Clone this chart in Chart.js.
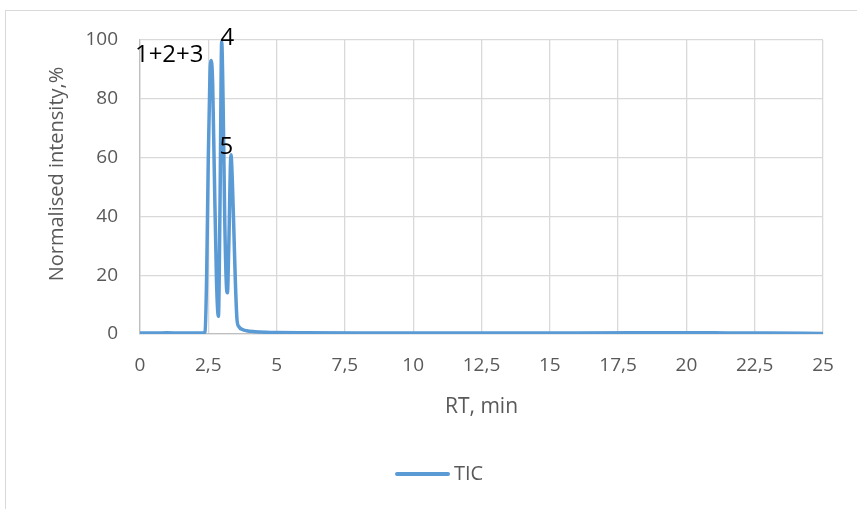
<!DOCTYPE html>
<html>
<head>
<meta charset="utf-8">
<script src="https://cdn.jsdelivr.net/npm/chart.js@4/dist/chart.umd.min.js"></script>
<style>
  body { margin: 0; background: #fff; }
  #frame { position: absolute; left: 5px; top: 10px; width: 900px; height: 600px; border: 1px solid #d9d9d9; }
  #wrap { position: absolute; left: 0; top: 0; width: 857px; height: 509px; }
</style>
</head>
<body>
<div id="frame"></div>
<div id="wrap"><canvas id="tic" width="857" height="509"></canvas></div>
<script>
// TIC chromatogram, values
var rt = [0, 0.5, 1.0, 1.5, 2.0, 2.3, 2.38, 2.44, 2.5, 2.56, 2.61, 2.66, 2.72, 2.8, 2.87, 2.93, 2.99, 3.04, 3.1, 3.16, 3.2, 3.25, 3.33, 3.38, 3.43, 3.49, 3.55, 3.62, 3.75, 3.9, 4.2, 4.6, 5, 6, 8, 10, 12, 15, 18, 20, 21, 22, 23, 25];
var intensity = [0.3, 0.3, 0.4, 0.3, 0.3, 0.3, 0.8, 20, 60, 88, 93, 85, 55, 18, 6, 45, 99.5, 80, 40, 17, 14, 30, 61, 52, 37, 18, 5, 2.5, 1.5, 1.1, 0.8, 0.6, 0.5, 0.4, 0.3, 0.3, 0.3, 0.35, 0.4, 0.4, 0.4, 0.3, 0.3, 0.2];

// peak labels
var peakNames = ["1+2+3", "4", "5"];
var peakRt = [1.07, 3.2, 3.16];
var peakY = [95, 100.5, 63.5];

var xTicks = [0, 2.5, 5, 7.5, 10, 12.5, 15, 17.5, 20, 22.5, 25];

var peakLabels = {
  id: 'peakLabels',
  afterDatasetsDraw: function(chart) {
    var ctx = chart.ctx;
    var xs = chart.scales.x, ys = chart.scales.y;
    ctx.save();
    ctx.font = '24px "Open Sans"';
    ctx.fillStyle = '#000';
    ctx.textAlign = 'center';
    ctx.textBaseline = 'middle';
    for (var i = 0; i < peakNames.length; i++) {
      ctx.fillText(peakNames[i], xs.getPixelForValue(peakRt[i]), ys.getPixelForValue(peakY[i]));
    }
    // legend
    var ds = chart.data.datasets[0];
    ctx.strokeStyle = ds.borderColor;
    ctx.lineWidth = 4;
    ctx.lineCap = 'round';
    ctx.beginPath();
    ctx.moveTo(397, 474);
    ctx.lineTo(448, 474);
    ctx.stroke();
    ctx.font = '20px "Open Sans"';
    ctx.fillStyle = '#595959';
    ctx.textAlign = 'left';
    ctx.fillText(ds.label, 454, 474);
    ctx.restore();
  }
};

var tickFont = { family: 'Open Sans', size: 19 };

new Chart(document.getElementById("tic"), {
  type: 'scatter',
  data: {
    datasets: [{
      label: "TIC",
      data: rt.map(function(v, i) { return { x: v, y: intensity[i] }; }),
      showLine: true,
      borderColor: "#5b9bd5",
      backgroundColor: "#5b9bd5",
      borderWidth: 3.5,
      pointRadius: 0,
      cubicInterpolationMode: 'monotone',
      fill: false
    }]
  },
  options: {
    responsive: false,
    animation: false,
    layout: { padding: { left: 0, right: 34, top: 40, bottom: 0 } },
    scales: {
      x: {
        type: 'linear', min: 0, max: 25,
        afterBuildTicks: function(s) { s.ticks = xTicks.map(function(v) { return { value: v }; }); },
        afterFit: function(s) { s.height = 175; },
        ticks: {
          color: '#595959', font: tickFont, padding: 20, maxRotation: 0,
          callback: function(v) { return String(v).replace('.', ','); }
        },
        grid: { color: '#d9d9d9', lineWidth: 1.3, drawTicks: false },
        border: { color: '#bfbfbf', width: 1.3 },
        title: { display: true, text: 'RT, min', color: '#595959', font: { family: 'Open Sans', size: 21 }, padding: { top: 0, bottom: 89 } }
      },
      y: {
        min: 0, max: 100,
        afterFit: function(s) { s.width = 140; },
        ticks: { stepSize: 20, color: '#595959', font: tickFont, padding: 22 },
        grid: { color: '#d9d9d9', lineWidth: 1.3, drawTicks: false },
        border: { color: '#bfbfbf', width: 1.3 },
        title: { display: true, text: '     Normalised intensity,%', color: '#595959', font: { family: 'Open Sans', size: 20 }, padding: { top: 45, bottom: 0 } }
      }
    },
    plugins: {
      tooltip: { enabled: false },
      legend: { display: false }
    }
  },
  plugins: [peakLabels]
});
</script>
</body>
</html>
